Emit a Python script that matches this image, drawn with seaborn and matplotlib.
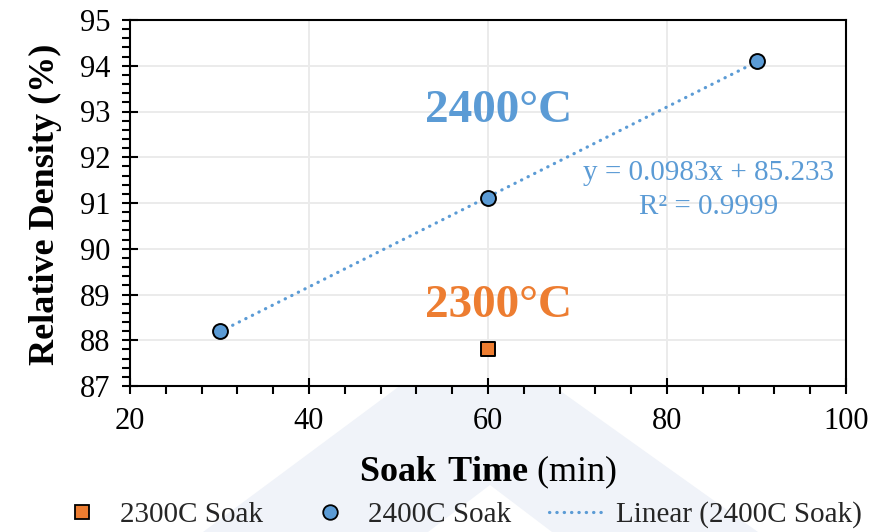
import numpy as np
import pandas as pd
import matplotlib
matplotlib.use("Agg")
import matplotlib.pyplot as plt
import seaborn as sns
from matplotlib.lines import Line2D
from matplotlib.patches import Polygon
from matplotlib.ticker import MultipleLocator

# ---- data ----
soak_2400 = [30, 60, 90]
density_2400 = [88.2, 91.1, 94.1]
soak_2300 = [60]
density_2300 = [87.8]
fit_slope = 0.0983
fit_intercept = 85.233
fit_r2 = 0.9999
series_labels = ["2300C Soak", "2400C Soak", "Linear (2400C Soak)"]
x_ticks = [20, 40, 60, 80, 100]
y_ticks = [87, 88, 89, 90, 91, 92, 93, 94, 95]

BLUE = "#5B9BD5"
ORANGE = "#ED7D31"
DOT = (0, (0.1, 2.2))

sns.set_theme(style="white")
plt.rcParams["font.family"] = ["Liberation Serif", "DejaVu Serif"]
plt.rcParams["mathtext.fontset"] = "custom"
plt.rcParams["mathtext.rm"] = "Liberation Serif"
plt.rcParams["mathtext.bf"] = "Liberation Serif:bold"

df2400 = pd.DataFrame({"soak": soak_2400, "density": density_2400})
df2300 = pd.DataFrame({"soak": soak_2300, "density": density_2300})

fig = plt.figure(figsize=(8.96, 5.32), dpi=100)
fig.patch.set_facecolor("white")

# faint background watermark (chevron)
W, H = 896.0, 532.0
pts = [(203, 532), (475, 330), (758, 532), (552, 532), (490, 485), (428, 532)]
fig.patches.append(Polygon([(x / W, 1 - y / H) for x, y in pts], closed=True,
                           transform=fig.transFigure, facecolor="#F0F3F9",
                           edgecolor="none", zorder=-5))

ax = fig.add_axes([130 / W, 1 - 386 / H, (846 - 130) / W, (386 - 20) / H])
ax.set_zorder(1)
ax.set_facecolor("white")

# trend line
sns.regplot(data=df2400, x="soak", y="density", scatter=False, ci=None, ax=ax,
            color=BLUE, truncate=True,
            line_kws=dict(linestyle=DOT, linewidth=2.3,
                          dash_capstyle="round", zorder=3))

sns.scatterplot(data=df2400, x="soak", y="density", ax=ax, marker="o", s=115,
                color=BLUE, edgecolor="black", linewidth=1.4, zorder=5)
sns.scatterplot(data=df2300, x="soak", y="density", ax=ax, marker="s", s=105,
                color=ORANGE, edgecolor="black", linewidth=1.4, zorder=5)

ax.set_xlim(x_ticks[0], x_ticks[-1])
ax.set_ylim(y_ticks[0], y_ticks[-1])
ax.set_xticks(x_ticks)
ax.set_yticks(y_ticks)
ax.xaxis.set_minor_locator(MultipleLocator(4))
ax.yaxis.set_minor_locator(MultipleLocator(0.2))

ax.grid(True, which="major", color="#EBEBEB", linewidth=1.4)
ax.set_axisbelow(True)

for s in ax.spines.values():
    s.set_visible(True)
    s.set_color("black")
    s.set_linewidth(1.5)

ax.tick_params(which="major", direction="inout", length=12, width=1.5,
               colors="black", labelsize=22, bottom=True, left=True,
               top=False, right=False)
ax.tick_params(axis="x", which="major", pad=9)
ax.tick_params(axis="y", which="major", pad=8)
ax.tick_params(which="minor", direction="out", length=6, width=1.5,
               colors="black", bottom=True, left=True, top=False, right=False)

ax.set_ylabel("Relative Density (%)", fontsize=26, fontweight="bold",
              color="black", va="center")
ax.yaxis.set_label_coords(-0.1187, 0.497)
ax.set_xlabel(r"$\mathbf{Soak\ Time}$ (min)", fontsize=26, color="black",
              va="center")
ax.xaxis.set_label_coords(0.5, -0.235)

# annotations
ax.text(61.2, 93.0, "2400°C", color=BLUE, fontsize=34, fontweight="bold",
        ha="center", va="center")
ax.text(61.2, 88.75, "2300°C", color=ORANGE, fontsize=34, fontweight="bold",
        ha="center", va="center")
ax.text(84.6, 91.29,
        f"y = {fit_slope:.4f}x + {fit_intercept:.3f}\nR² = {fit_r2:.4f}",
        color=BLUE, fontsize=21, ha="center", va="center",
        multialignment="center", linespacing=1.38)

handles = [
    Line2D([], [], marker="s", linestyle="none", markerfacecolor=ORANGE,
           markeredgecolor="black", markeredgewidth=1.3, markersize=10),
    Line2D([], [], marker="o", linestyle="none", markerfacecolor=BLUE,
           markeredgecolor="black", markeredgewidth=1.3, markersize=10.5),
    Line2D([], [], color=BLUE, linestyle=DOT, linewidth=2.3,
           dash_capstyle="round"),
]
fig.legend(handles, series_labels, loc="center", bbox_to_anchor=(0.51, 0.032),
           ncol=3, frameon=False, fontsize=21, handlelength=2.0,
           handletextpad=0.3, columnspacing=1.3, borderaxespad=0)

fig.savefig("out.png", dpi=100, facecolor="white")
